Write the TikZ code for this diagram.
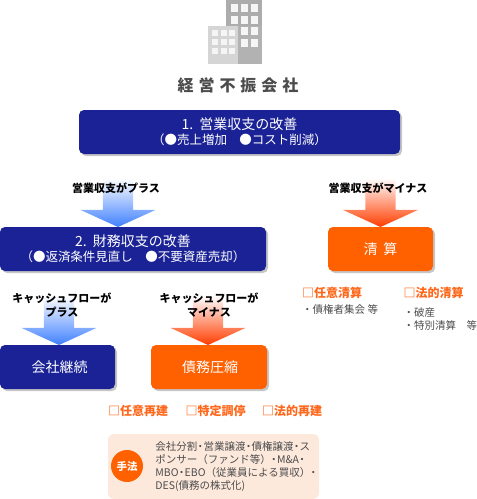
\documentclass[tikz,border=0pt]{standalone}
\usepackage{fontspec}
\setmainfont{Noto Sans CJK JP}
\newfontfamily\widecjk[LetterSpace=31]{Noto Sans CJK JP}
\usepackage{xcolor}
\usetikzlibrary{shapes.arrows, positioning, shadows}
\definecolor{darknavy}{RGB}{26,34,150}
\definecolor{darkorange}{RGB}{255,96,0}
\definecolor{textorange}{RGB}{255,104,28}
\definecolor{lightpeach}{RGB}{253,233,220}
\definecolor{arrowblue}{RGB}{64,128,255}
\definecolor{arrowred}{RGB}{255,60,0}
\newcommand{\fsz}[1]{\fontsize{#1}{#1}\selectfont}
\newcommand{\nd}{\kern-2.2pt・\kern-2.2pt}
\tikzset{
  blk/.style={rectangle, rounded corners=5pt, inner sep=0pt, outer sep=0pt,
    align=center, text=white, minimum height=44pt,
    drop shadow={shadow xshift=2pt, shadow yshift=-2pt, fill=gray!45, opacity=1}},
  blkN/.style={blk, fill=darknavy},
  blkO/.style={blk, fill=darkorange},
  bigarr/.style={single arrow, shape border rotate=270, anchor=tip,
    text width=30pt, minimum height=49pt, minimum width=75pt, inner sep=0pt, outer sep=0pt,
    single arrow head extend=22.5pt, single arrow head indent=0pt,
    single arrow tip angle=131},
  arrB/.style={bigarr, top color=white, bottom color=arrowblue},
  arrO/.style={bigarr, top color=white, bottom color=arrowred},
  lab/.style={font=\fsz{11}\bfseries, align=center, inner sep=0pt},
  head/.style={font=\fsz{12}\bfseries, text=textorange, inner sep=0pt, anchor=west},
  itm/.style={font=\fsz{10.5}, text=black!70, inner sep=0pt, anchor=west, align=left},
}
\begin{document}
\begin{tikzpicture}[x=1pt, y=-1pt]
  \useasboundingbox (0,0) rectangle (477,499);

  % building
  \fill[gray!65] (226,0) rectangle (262,64);
  \fill[gray!60] (238,26) rectangle (262,64);
  \fill[gray!33] (208,26) rectangle (238,64);
  \foreach \wx in {231,241,251} {
    \foreach \wy in {4,16} {
      \fill[white!92!gray] (\wx,\wy) rectangle ++(6.5,8);
    }
  }
  \foreach \wx in {241,251} {
    \foreach \wy in {27,39} {
      \fill[white!92!gray] (\wx,\wy) rectangle ++(6.5,8);
    }
  }
  \foreach \wx in {212,220.5,229} {
    \foreach \wy in {30,39,48} {
      \fill[white!92!gray] (\wx,\wy) rectangle ++(6,6);
    }
  }

  \node[inner sep=0pt, text=black!70] (title) at (238,85)
       {\fsz{16}\bfseries\widecjk 経営不振会社};

  \node[blkN, minimum width=321pt] (sales) at (239.5,132)
       {\fsz{14}1.\hspace{2pt} 営業収支の改善\\[3pt]\fsz{12.5}（●売上増加　●コスト削減）};

  \node[blkN, minimum width=266pt, below=73pt of sales.south west, anchor=north east, xshift=187pt] (fin)
       {\fsz{14}2.\hspace{2pt} 財務収支の改善\\[3pt]\fsz{12.5}（●返済条件見直し　●不要資産売却）};

  \node[blkO, minimum width=105pt, right=62pt of fin] (liq)
       {\fsz{14}清\hspace{6pt}算};

  \node[blkN, minimum width=115pt, below=74pt of fin.south west, anchor=north west] (cont)
       {\fsz{14}\hspace*{4pt}会社継続};

  \node[blkO, minimum width=116pt, right=36pt of cont] (debt)
       {\fsz{14}\hspace*{2pt}債務圧縮};

  \node[arrB] (plusarr)  at ([xshift=-15pt]fin.north)  {};
  \node[arrO] (minusarr) at (liq.north) {};
  \node[arrB] (contarr)  at ([xshift=1.5pt]cont.north) {};
  \node[arrO] (debtarr)  at ([xshift=-1pt]debt.north)  {};

  \node[lab] (plustxt)  at (116,188) {営業収支がプラス};
  \node[lab] (minustxt) at (378,188) {営業収支がマイナス};
  \node[lab] (conttxt)  at (62,305)  {キャッシュフローが\\[3pt]プラス};
  \node[lab] (debttxt)  at (209,305) {キャッシュフローが\\[3pt]マイナス};

  \node[head, below=22pt of liq.south west, anchor=west, xshift=-26pt] (volliq) {□任意清算};
  \node[head, right=41pt of volliq] (legliq) {□法的清算};
  \node[itm, below=17pt of volliq.west, anchor=west] (volitm) {・債権者集会 等};
  \node[itm, below=9pt of legliq.south west, anchor=north west] (legitm) {・破産\\[2.5pt]・特別清算　等};

  \node[head, below=22pt of debt.south west, anchor=west, xshift=-43pt] (volreb) {□任意再建};
  \node[head, right=17pt of volreb] (spec) {□特定調停};
  \node[head, right=16pt of spec] (legreb) {□法的再建};

  \fill[lightpeach, rounded corners=6pt] (108,434) rectangle (319,499);
  \node[circle, fill=darkorange, text=white, minimum size=32pt, inner sep=0pt, font=\fsz{10.5}\bfseries] (method) at (127,466) {手法};
  \node[itm, right=12pt of method, yshift=-1pt, font=\fsz{10.5}, align=left] (methodtxt)
       {会社分割\nd 営業譲渡\nd 債権譲渡\nd ス\\[2.5pt]ポンサー（ファンド等）\nd M\&A\nd \\[2.5pt]MBO\nd EBO（従業員による買収）\nd \\[2.5pt]DES(債務の株式化)};
\end{tikzpicture}
\end{document}
